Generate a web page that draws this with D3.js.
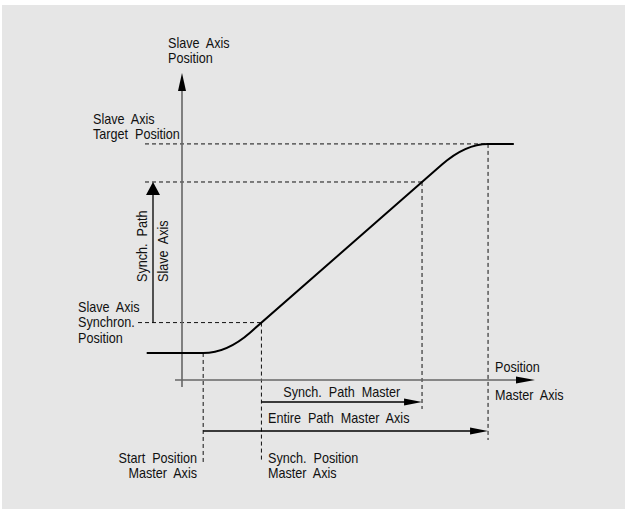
<!DOCTYPE html>
<html>
<head>
<meta charset="utf-8">
<script src="https://cdn.jsdelivr.net/npm/d3@7"></script>
<style>
  body { margin: 0; background: #fff; }
  text { font-family: "Liberation Sans", Arial, sans-serif; font-size: 14.5px; fill: #111; word-spacing: 4px; }
</style>
</head>
<body>
<script>
// master axis positions: start, synch, end of synch path, target reached
var masterMarks = [6, 22.5, 68, 86.7];
// slave axis positions at those points
var slaveMarks = [8.8, 18.7, 64.5, 76.9];
// motion profile corners (master, slave) - rounded at the inner corners
var profileMaster = [-10, 12.7, 80.3, 94];
var profileSlave = [8.8, 8.8, 76.9, 76.9];

var width = 625, height = 509;
var squeeze = 0.87; // narrow face look

var svg = d3.select("body").append("svg")
    .attr("width", width)
    .attr("height", height);

svg.append("rect")
    .attr("x", 2).attr("y", 5)
    .attr("width", width - 2).attr("height", height - 5)
    .attr("fill", "#e6e6e6");

// scales: master (horizontal), slave (vertical)
var x = d3.scaleLinear().domain([0, 100]).range([182, 535]);
var y = d3.scaleLinear().domain([0, 100]).range([380, 73]);

function arrowHead(g, tipX, tipY, dir, len, half) {
  var pts;
  if (dir == "up") pts = [[tipX, tipY], [tipX - half, tipY + len], [tipX + half, tipY + len]];
  else pts = [[tipX, tipY], [tipX - len, tipY - half], [tipX - len, tipY + half]];
  g.append("path")
      .attr("d", "M" + pts.join("L") + "Z")
      .attr("fill", "#000");
}

// dashed guide lines
var guides = svg.append("g")
    .attr("stroke", "#111")
    .attr("stroke-width", 1)
    .attr("stroke-dasharray", "4,3");

// horizontal guides from the slave axis labels
guides.append("line")
    .attr("x1", 145).attr("x2", x(masterMarks[3]))
    .attr("y1", y(slaveMarks[3])).attr("y2", y(slaveMarks[3]));
guides.append("line")
    .attr("x1", 145).attr("x2", x(masterMarks[2]))
    .attr("y1", y(slaveMarks[2])).attr("y2", y(slaveMarks[2]));
guides.append("line")
    .attr("x1", 138).attr("x2", x(masterMarks[1]))
    .attr("y1", y(slaveMarks[1])).attr("y2", y(slaveMarks[1]));

// vertical guides down to the master axis labels
var guideBottoms = [463, 462, 409, 440];
masterMarks.forEach(function(m, i) {
  guides.append("line")
      .attr("x1", x(m)).attr("x2", x(m))
      .attr("y1", y(slaveMarks[i])).attr("y2", guideBottoms[i]);
});

// axes
var axes = svg.append("g").attr("stroke", "#666").attr("stroke-width", 1.6);
axes.append("line")
    .attr("x1", x(0)).attr("x2", x(0))
    .attr("y1", 387).attr("y2", y(100) + 10);
axes.append("line")
    .attr("x1", 175).attr("x2", x(100) - 10)
    .attr("y1", y(0)).attr("y2", y(0));
arrowHead(svg, x(0), y(100), "up", 18, 4);
arrowHead(svg, x(100), y(0), "right", 19, 3.5);

// motion profile: flat, blend, linear synch path, blend, flat
var p = profileMaster.map(function(m, i) { return [x(m), y(profileSlave[i])]; });
var blend = p[1][0] - x(masterMarks[0]);
function along(a, b, d) {
  var dx = b[0] - a[0], dy = b[1] - a[1], l = Math.sqrt(dx * dx + dy * dy);
  return [a[0] + dx / l * d, a[1] + dy / l * d];
}
var path = d3.path();
path.moveTo(p[0][0], p[0][1]);
var a1 = along(p[1], p[0], blend), b1 = along(p[1], p[2], blend * 1.32);
path.lineTo(a1[0], a1[1]);
path.quadraticCurveTo(p[1][0], p[1][1], b1[0], b1[1]);
var a2 = along(p[2], p[1], blend * 1.32), b2 = along(p[2], p[3], x(masterMarks[3]) - p[2][0]);
path.lineTo(a2[0], a2[1]);
path.quadraticCurveTo(p[2][0], p[2][1], b2[0], b2[1]);
path.lineTo(p[3][0], p[3][1]);

svg.append("path")
    .attr("d", path.toString())
    .attr("fill", "none")
    .attr("stroke", "#000")
    .attr("stroke-width", 2);

// dimension arrows
var arrows = svg.append("g").attr("stroke", "#000").attr("stroke-width", 1.3);
// synch path slave axis
arrows.append("line")
    .attr("x1", 153).attr("x2", 153)
    .attr("y1", y(slaveMarks[1])).attr("y2", y(slaveMarks[2]) + 10);
arrowHead(svg, 153, y(slaveMarks[2]), "up", 13, 7);
// synch path master
arrows.append("line")
    .attr("x1", x(masterMarks[1])).attr("x2", x(masterMarks[2]) - 10)
    .attr("y1", 402).attr("y2", 402);
arrowHead(svg, x(masterMarks[2]), 402, "right", 18, 3.5);
// entire path master axis
arrows.append("line")
    .attr("x1", x(masterMarks[0])).attr("x2", x(masterMarks[3]) - 10)
    .attr("y1", 431).attr("y2", 431);
arrowHead(svg, x(masterMarks[3]), 431, "right", 18, 3.5);

// labels, squeezed horizontally
function label(lines, tx, ty, anchor, lh, rot) {
  var t = svg.append("text")
      .attr("transform", "translate(" + tx + "," + ty + ")" + (rot ? " rotate(" + rot + ")" : "") +
            " scale(" + squeeze + ",1)")
      .attr("text-anchor", anchor || "start");
  lines.forEach(function(s, i) {
    t.append("tspan").attr("x", 0).attr("y", i * (lh || 15)).text(s);
  });
  return t;
}

label(["Slave Axis", "Position"], 168, 48);
label(["Slave Axis", "Target Position"], 93, 124);
label(["Slave Axis", "Synchron.", "Position"], 78, 312, "start", 15.5);
label(["Position"], 495, 372);
label(["Master Axis"], 495, 400);
label(["Synch. Path Master"], (x(masterMarks[1]) + x(masterMarks[2])) / 2, 397, "middle");
label(["Entire Path Master Axis"], 268, 423);
label(["Start Position", "Master Axis"], 197, 463, "end");
label(["Synch. Position", "Master Axis"], 268, 463);
label(["Synch. Path"], 147, 282, "start", 15, -90);
label(["Slave Axis"], 168, 282, "start", 15, -90);
</script>
</body>
</html>
